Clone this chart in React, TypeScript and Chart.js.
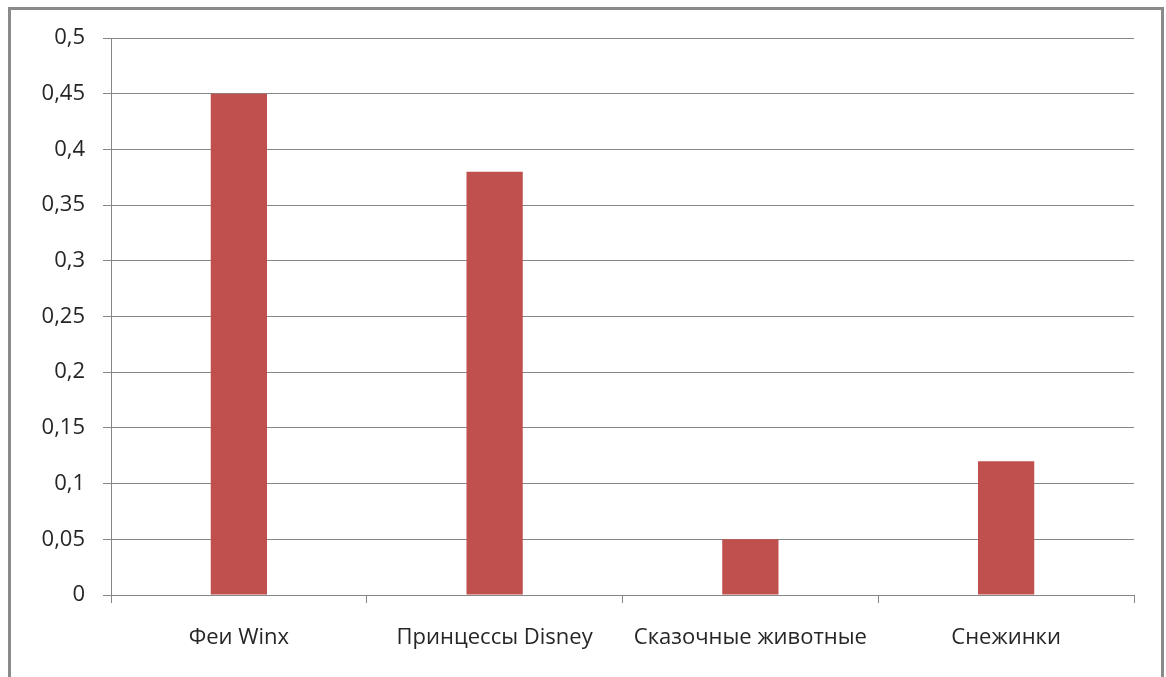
import React, { useEffect, useRef } from "react";
import { Chart, registerables } from "chart.js";

Chart.register(...registerables);

const categories = ["Феи Winx", "Принцессы Disney", "Сказочные животные", "Снежинки"];
const values = [0.45, 0.38, 0.05, 0.12];
const yMin = 0;
const yMax = 0.5;
const yStep = 0.05;

const fmt = (v: number) => {
  const r = Math.round(v * 100) / 100;
  return String(r).replace(".", ",");
};

export default function App() {
  const ref = useRef<HTMLCanvasElement>(null);
  useEffect(() => {
    if (!ref.current) return;
    const fontFamily = "'Open Sans', 'Noto Sans', sans-serif";
    const chart = new Chart(ref.current, {
      type: "bar",
      data: {
        labels: categories,
        datasets: [
          {
            data: values,
            backgroundColor: "#C0504D",
            borderWidth: 0,
            categoryPercentage: 1,
            barPercentage: 0.22,
          },
        ],
      },
      options: {
        animation: false,
        responsive: false,
        maintainAspectRatio: false,
        layout: { padding: { top: 38, right: 32, left: 0, bottom: 0 } },
        plugins: { legend: { display: false }, tooltip: { enabled: false } },
        scales: {
          x: {
            grid: {
              offset: true,
              drawOnChartArea: false,
              drawTicks: true,
              tickLength: 8,
              color: "#868686",
            },
            border: { display: true, color: "#868686", width: 1 },
            ticks: {
              color: "#262626",
              padding: 22,
              font: { family: fontFamily, size: 22 },
              maxRotation: 0,
              autoSkip: false,
            },
            afterFit: (s: any) => {
              s.height = 82;
            },
          },
          y: {
            min: yMin,
            max: yMax,
            grid: {
              color: "#868686",
              tickLength: 8,
              drawTicks: true,
            },
            border: { display: true, color: "#868686", width: 1 },
            ticks: {
              stepSize: yStep,
              color: "#262626",
              padding: 18,
              font: { family: fontFamily, size: 22 },
              callback: (v: any) => fmt(Number(v)),
            },
            afterFit: (s: any) => {
              s.width = 111;
            },
          },
        },
      },
    });
    return () => chart.destroy();
  }, []);
  return (
    <div style={{ position: "fixed", left: 0, top: 0, width: 1166, height: 677, background: "#fff", overflow: "hidden" }}>
      <canvas ref={ref} width={1166} height={677} style={{ position: "absolute", left: 0, top: 0 }} />
      <div
        style={{
          position: "absolute",
          left: 8,
          top: 7,
          width: 1150,
          height: 700,
          border: "3px solid #8a8a8a",
          boxSizing: "content-box",
          pointerEvents: "none",
        }}
      />
    </div>
  );
}
